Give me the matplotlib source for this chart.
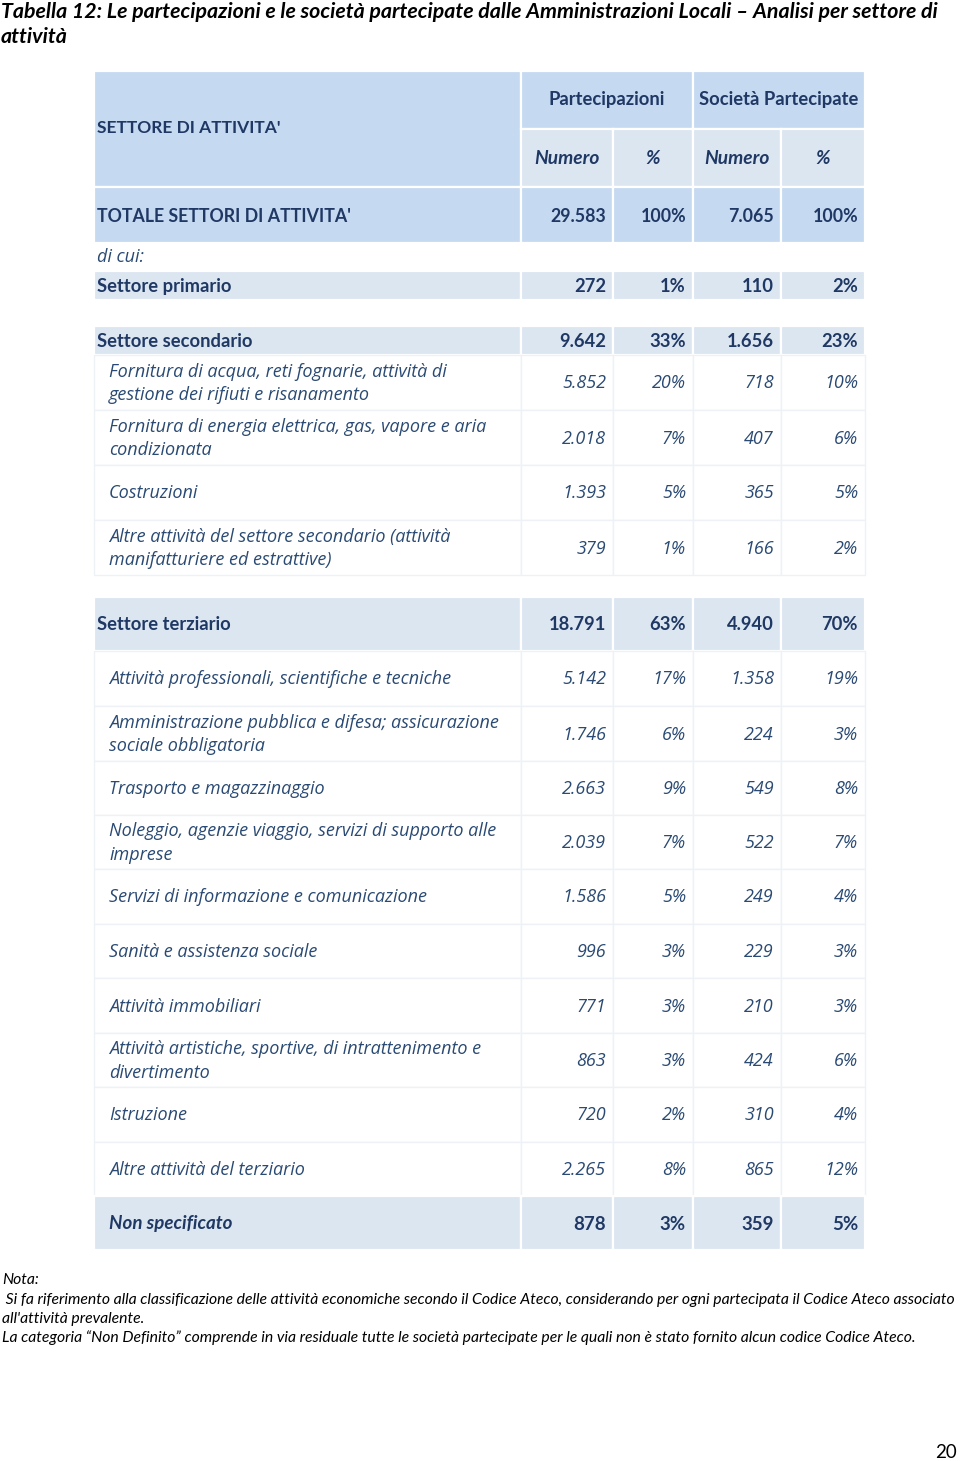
import matplotlib.pyplot as plt
from matplotlib.patches import Rectangle

# --- data ---------------------------------------------------------------
title_lines = ["Tabella 12: Le partecipazioni e le società partecipate dalle Amministrazioni Locali – Analisi per settore di",
               "attività"]
col_groups = ["Partecipazioni", "Società Partecipate"]
sub_cols = ["Numero", "%", "Numero", "%"]

row_labels = [
    "TOTALE SETTORI DI ATTIVITA'",
    "Settore primario",
    "Settore secondario",
    "Fornitura di acqua, reti fognarie, attività di\ngestione dei rifiuti e risanamento",
    "Fornitura di energia elettrica, gas, vapore e aria\ncondizionata",
    "Costruzioni",
    "Altre attività del settore secondario (attività\nmanifatturiere ed estrattive)",
    "Settore terziario",
    "Attività professionali, scientifiche e tecniche",
    "Amministrazione pubblica e difesa; assicurazione\nsociale obbligatoria",
    "Trasporto e magazzinaggio",
    "Noleggio, agenzie viaggio, servizi di supporto alle\nimprese",
    "Servizi di informazione e comunicazione",
    "Sanità e assistenza sociale",
    "Attività immobiliari",
    "Attività artistiche, sportive, di intrattenimento e\ndivertimento",
    "Istruzione",
    "Altre attività del terziario",
    "Non specificato",
]
part_num = ["29.583", "272", "9.642", "5.852", "2.018", "1.393", "379", "18.791",
            "5.142", "1.746", "2.663", "2.039", "1.586", "996", "771", "863",
            "720", "2.265", "878"]
part_pct = ["100%", "1%", "33%", "20%", "7%", "5%", "1%", "63%", "17%", "6%",
            "9%", "7%", "5%", "3%", "3%", "3%", "2%", "8%", "3%"]
soc_num = ["7.065", "110", "1.656", "718", "407", "365", "166", "4.940",
           "1.358", "224", "549", "522", "249", "229", "210", "424", "310",
           "865", "359"]
soc_pct = ["100%", "2%", "23%", "10%", "6%", "5%", "2%", "70%", "19%", "3%",
           "8%", "7%", "4%", "3%", "3%", "6%", "4%", "12%", "5%"]
# row kind: total / sector / sub / unspec
row_kind = ["total", "sector", "sector", "sub", "sub", "sub", "sub", "sector",
            "sub", "sub", "sub", "sub", "sub", "sub", "sub", "sub", "sub",
            "sub", "unspec"]

notes = [
    "Nota:",
    " Si fa riferimento alla classificazione delle attività economiche secondo il Codice Ateco, considerando per ogni partecipata il Codice Ateco associato",
    "all'attività prevalente.",
    "La categoria \u201cNon Definito\u201d comprende in via residuale tutte le società partecipate per le quali non è stato fornito alcun codice Codice Ateco.",
]
page_number = "20"

# --- layout (pixel units) -------------------------------------------------
W, H = 960, 1461
col_edges = [94, 521, 613, 693, 781, 865]
row_spans = [(187, 243), (271, 300), (326, 355), (355, 410), (410, 465),
             (465, 520), (520, 575), (597, 651), (651, 706), (706, 761),
             (761, 815), (815, 869), (869, 924), (924, 978), (978, 1033),
             (1033, 1087), (1087, 1142), (1142, 1196), (1196, 1250)]

narrow = "Lato"
body = "Open Sans"

navy = "#1F3864"
body_col = "#2A4A73"
hdr = "#C5D9F1"
light = "#DCE6F1"

fig = plt.figure(figsize=(W / 100, H / 100), dpi=100)
ax = fig.add_axes([0, 0, 1, 1])
ax.set_xlim(0, W)
ax.set_ylim(H, 0)
ax.axis("off")
renderer = fig.canvas.get_renderer()


def cell(x0, x1, y0, y1, color, edge="white", lw=1.6):
    ax.add_patch(Rectangle((x0, y0), x1 - x0, y1 - y0, facecolor=color,
                           edgecolor=edge, linewidth=lw))


def fit(t, width):
    # shrink / grow a text so it spans the given pixel width
    w = t.get_window_extent(renderer).width
    t.set_fontsize(t.get_fontsize() * width / w)
    return t.get_fontsize()


# title
t = ax.text(1, 12, title_lines[0], ha="left", va="center", fontsize=15,
            fontweight="bold", fontstyle="italic", family=narrow, color="black")
fs_title = fit(t, 938)
ax.text(1, 37, title_lines[1], ha="left", va="center", fontsize=fs_title,
        fontweight="bold", fontstyle="italic", family=narrow, color="black")

# header
cell(col_edges[0], col_edges[1], 71, 187, hdr)
ax.text(col_edges[0] + 3, 128, "SETTORE DI ATTIVITA'", ha="left", va="center",
        fontsize=12.5, fontweight="bold", family=narrow, color=navy)
for g, name in enumerate(col_groups):
    x0, x1 = col_edges[1 + 2 * g], col_edges[3 + 2 * g]
    cell(x0, x1, 71, 129, hdr)
    ax.text((x0 + x1) / 2, 100, name, ha="center", va="center", fontsize=13.2,
            fontweight="bold", family=narrow, color=navy)
for j, name in enumerate(sub_cols):
    x0, x1 = col_edges[1 + j], col_edges[2 + j]
    cell(x0, x1, 129, 187, light)
    ax.text((x0 + x1) / 2, 159, name, ha="center", va="center", fontsize=13.8,
            fontweight="bold", fontstyle="italic", family=narrow, color=navy)

ax.text(col_edges[0] + 3, 257, "di cui:", ha="left", va="center", fontsize=13,
        fontstyle="italic", family=body, color=body_col)

# body rows
for i, label in enumerate(row_labels):
    y0, y1 = row_spans[i]
    kind = row_kind[i]
    values = [part_num[i], part_pct[i], soc_num[i], soc_pct[i]]
    if kind == "total":
        bg, weight, style, fam, fs, col, indent = hdr, "bold", "normal", narrow, 12.8, navy, 3
    elif kind == "sector":
        bg, weight, style, fam, fs, col, indent = light, "bold", "normal", narrow, 13.2, navy, 3
    elif kind == "unspec":
        bg, weight, style, fam, fs, col, indent = light, "bold", "italic", narrow, 13.5, navy, 15
    else:
        bg, weight, style, fam, fs, col, indent = "white", "normal", "italic", body, 13, body_col, 15
    edge = "white" if bg != "white" else "#EEF1F6"
    for j in range(5):
        cell(col_edges[j], col_edges[j + 1], y0, y1, bg, edge=edge,
             lw=1.6 if bg != "white" else 1.0)
    yc = (y0 + y1) / 2 + 1
    ax.text(col_edges[0] + indent, yc, label, ha="left", va="center",
            fontsize=fs, fontweight=weight, fontstyle=style, family=fam,
            color=col, linespacing=1.42)
    for j, v in enumerate(values):
        ax.text(col_edges[j + 2] - 7, yc, v, ha="right", va="center",
                fontsize=fs, fontweight=weight,
                fontstyle="italic" if kind == "sub" else "normal",
                family=fam, color=col)

# notes
note_y = [1280, 1300, 1319, 1338]
nt = []
for txt, y in zip(notes, note_y):
    nt.append(ax.text(2, y, txt, ha="left", va="center", fontsize=11,
                      fontstyle="italic", family=narrow, color="black"))
fs_note = fit(nt[1], 954)
for t in nt:
    t.set_fontsize(fs_note)

ax.text(957, 1453, page_number, ha="right", va="center", fontsize=13.5,
        family=narrow, color="black")

fig.savefig("out.png", dpi=100)
